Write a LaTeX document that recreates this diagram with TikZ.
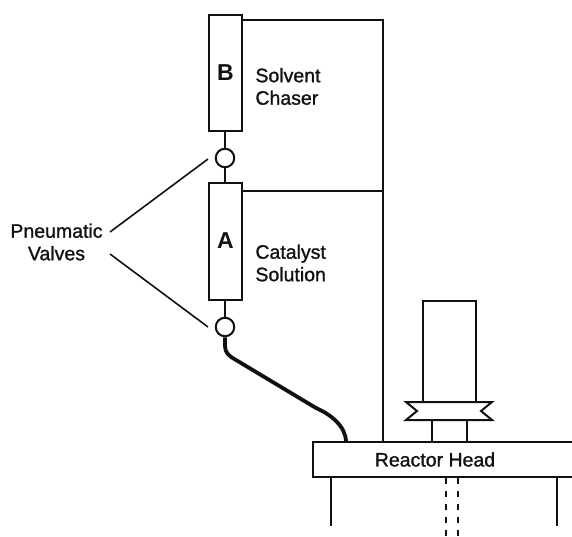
\documentclass[tikz,border=0pt]{standalone}
\usepackage{xcolor}
\usepackage{fontspec}
\setmainfont{Liberation Sans}
\newfontfamily\labelfont[FakeBold=1.2]{Liberation Sans}
\usetikzlibrary{calc,positioning}
\definecolor{inkblack}{HTML}{111111}
\tikzset{
  column/.style={rectangle,draw=inkblack,line width=2pt,minimum width=33.5pt,inner sep=0pt,
    text=inkblack,font=\fontsize{23}{23}\selectfont\bfseries},
  valve/.style={circle,draw=inkblack,line width=2pt,minimum size=18.5pt,inner sep=0pt},
  caption/.style={align=left,inner sep=0pt,text=inkblack,font=\labelfont\fontsize{19.5}{22.5}\selectfont},
  pipe/.style={draw=inkblack,line width=2pt},
  thickpipe/.style={draw=inkblack,line width=3.8pt},
  leader/.style={draw=inkblack,line width=1.6pt}
}

\begin{document}
\begin{tikzpicture}[x=1pt,y=-1pt]
\useasboundingbox (0,0) rectangle (572,536);
% columns and valves
\node[column,minimum height=116pt] (colB) at (225.5,72.5) {B};
\node[valve] (valveB) at (225,158) {};
\node[column,minimum height=117pt] (colA) at (225.5,241) {A};
\node[valve] (valveA) at (225,327) {};
\node[caption,right=12pt of colB,yshift=-14pt] (chaser) {Solvent\\Chaser};
\node[caption,right=12pt of colA,yshift=-22pt] (solution) {Catalyst\\Solution};
\node[caption,align=center] (valves) at (56.5,242) {Pneumatic\\Valves};
% reactor
\node[rectangle,draw=inkblack,line width=2pt,minimum width=262pt,minimum height=35pt,inner sep=0pt,
  text=inkblack,font=\labelfont\fontsize{19.5}{19.5}\selectfont] (head) at (444,459.5) {Reactor Head\hspace*{18pt}};
\node[rectangle,draw=inkblack,line width=2pt,minimum width=53pt,minimum height=101pt] (vessel) at (449.5,351) {};
\coordinate (stemL) at (432,442);
\coordinate (stemR) at (466.5,442);
\coordinate (flangeTL) at (406,402);
\coordinate (flangeTR) at (492,402);
\coordinate (flangeBL) at (406,420);
\coordinate (flangeBR) at (492,420);
\draw[pipe] (flangeTL) -- (flangeTR) -- (481,411) -- (flangeBR) -- (flangeBL) -- (417,411) -- cycle;
\draw[pipe] (stemL) -- (stemL |- flangeBL);
\draw[pipe] (stemR) -- (stemR |- flangeBL);
% connectors
\draw[pipe] (colB.south -| valveB) -- (valveB);
\draw[pipe] (valveB) -- (colA.north -| valveB);
\draw[pipe] (colA.south -| valveA) -- (valveA);
\coordinate (manifoldT) at (383,20);
\coordinate (manifoldM) at (383,191);
\coordinate (manifoldB) at (383,442);
\draw[pipe] (colB.east |- manifoldT) -- (manifoldT) -- (manifoldB);
\draw[pipe] (colA.east |- manifoldM) -- (manifoldM);
\coordinate (lineEnd) at (346,442);
\draw[thickpipe] (valveA.south) -- (225,346) .. controls (225,353) and (229,356) .. (236,360)
  -- (316,408) .. controls (330,414) and (346,426) .. (lineEnd);
\coordinate (upperTip) at (110,232);
\coordinate (lowerTip) at (110,254);
\draw[leader] (upperTip) -- (208,159);
\draw[leader] (lowerTip) -- (208,327);
% below the head
\coordinate (legL) at (331,526);
\coordinate (legR) at (557,526);
\draw[pipe] (head.south -| legL) -- (legL);
\draw[pipe] (head.south -| legR) -- (legR);
\coordinate (shaftL) at (446,536);
\coordinate (shaftR) at (458,536);
\draw[pipe,dash pattern=on 6pt off 7pt] (head.south -| shaftL) -- (shaftL);
\draw[pipe,dash pattern=on 6pt off 7pt] (head.south -| shaftR) -- (shaftR);
\end{tikzpicture}
\end{document}
